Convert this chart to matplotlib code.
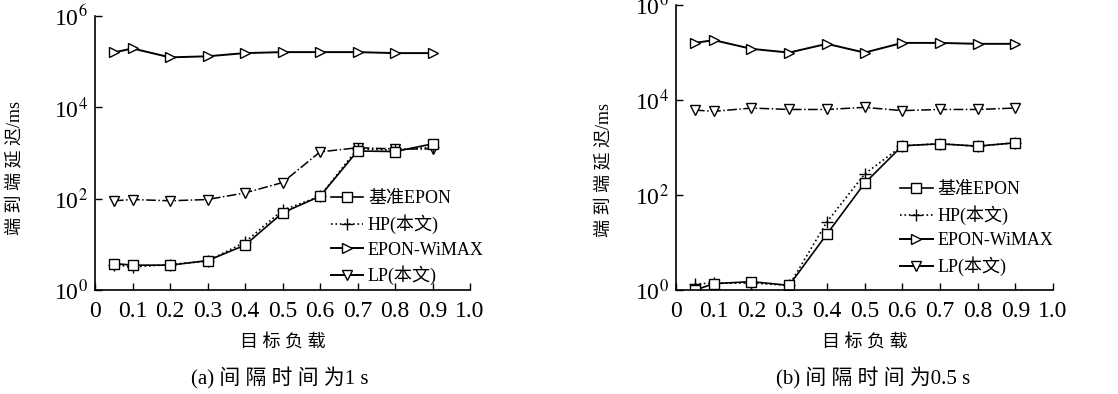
import numpy as np
import matplotlib
matplotlib.use("Agg")
import matplotlib.pyplot as plt
from matplotlib.lines import Line2D

plt.rcParams['font.family'] = ['Liberation Serif', 'Noto Sans CJK SC']
plt.rcParams['mathtext.fontset'] = 'stix'

# target load
load = [0.05, 0.1, 0.2, 0.3, 0.4, 0.5, 0.6, 0.7, 0.8, 0.9]

# (a) interval 1 s
base_a = [3.8, 3.5, 3.5, 4.4, 9.6, 49, 113, 1110, 1080, 1590]
hp_a = [3.6, 3.2, 3.6, 4.3, 11.2, 56, 113, 1250, 1150, 1350]
wimax_a = [1.6e5, 1.96e5, 1.25e5, 1.32e5, 1.55e5, 1.63e5, 1.63e5, 1.63e5, 1.55e5, 1.55e5]
lp_a = [90, 96, 90, 96, 134, 226, 1060, 1310, 1230, 1230]

# (b) interval 0.5 s
base_b = [0.99, 1.36, 1.5, 1.25, 15, 176, 1090, 1200, 1070, 1260]
hp_b = [1.34, 1.4, 1.4, 1.25, 27, 276, 1090, 1200, 1070, 1260]
wimax_b = [1.6e5, 1.83e5, 1.2e5, 1.0e5, 1.53e5, 1.0e5, 1.6e5, 1.6e5, 1.53e5, 1.53e5]
lp_b = [6160, 5780, 6790, 6340, 6340, 7020, 6000, 6340, 6340, 6790]

xticks = [0, 0.1, 0.2, 0.3, 0.4, 0.5, 0.6, 0.7, 0.8, 0.9, 1.0]
xlabels = ['0', '0.1', '0.2', '0.3', '0.4', '0.5', '0.6', '0.7', '0.8', '0.9', '1.0']
yticks = [1, 1e2, 1e4, 1e6]
ylabels = ['10$^0$', '10$^2$', '10$^4$', '10$^6$']
names = ['基准EPON', 'HP(本文)', 'EPON-WiMAX', 'LP(本文)']
xtitle = '目 标 负 载'
ytitle = '端 到 端 延 迟/ms'
captions = ['(a) 间 隔 时 间 为1 s', '(b) 间 隔 时 间 为0.5 s']

fig = plt.figure(figsize=(11.18, 3.94), dpi=100)
ax_a = fig.add_axes([0.085, 0.264, 0.3354, 0.695])
ax_b = fig.add_axes([0.6047, 0.264, 0.3372, 0.723])

mk = dict(markerfacecolor='white', markeredgecolor='black', markersize=7, markeredgewidth=1.0)

def draw(ax, base, hp, wimax, lp, caption, cap_x, legend_pos, ylab_xy):
    ax.plot(load, wimax, '-', color='black', lw=1.4, marker='>', **mk)
    ax.plot(load, lp, '-.', color='black', lw=1.1, marker='v', **mk)
    ax.plot(load, hp, ':', color='black', lw=1.2, marker='+', markersize=8, markeredgecolor='black')
    ax.plot(load, base, '-', color='black', lw=1.2, marker='s', **mk)

    ax.set_yscale('log')
    ax.set_xlim(0, 1.0)
    ax.set_ylim(1, 1e6)
    ax.set_xticks(xticks)
    ax.set_xticklabels(xlabels, fontsize=17)
    ax.set_yticks(yticks)
    ax.set_yticklabels(ylabels, fontsize=17)
    ax.minorticks_off()
    ax.tick_params(direction='in', length=5, width=1)
    ax.tick_params(axis='x', pad=8)
    ax.tick_params(axis='y', pad=5)
    ax.spines['top'].set_visible(False)
    ax.spines['right'].set_visible(False)
    for s in ['left', 'bottom']:
        ax.spines[s].set_linewidth(1.2)
    ax.set_xlabel(xtitle, fontsize=13, labelpad=8)
    ax.set_ylabel(ytitle, fontsize=13)
    ax.yaxis.set_label_coords(*ylab_xy)
    fig.text(cap_x, 1 - 378 / 394, caption, ha='center', va='center', fontsize=15)

    handles = [
        Line2D([], [], color='black', lw=1.2, marker='s', **mk),
        Line2D([], [], color='black', lw=1.2, ls=':', marker='+', markersize=8),
        Line2D([], [], color='black', lw=1.4, marker='>', **mk),
        Line2D([], [], color='black', lw=1.4, marker='v', **mk),
    ]
    ax.legend(handles, names, loc='center left', bbox_to_anchor=legend_pos, frameon=False,
              fontsize=13, handlelength=1.8, handletextpad=0.25, labelspacing=0.4,
              borderaxespad=0)

draw(ax_a, base_a, hp_a, wimax_a, lp_a, captions[0], 280 / 1118, (0.61, 0.19), (-0.19, 0.445))
draw(ax_b, base_b, hp_b, wimax_b, lp_b, captions[1], 873 / 1118, (0.575, 0.215), (-0.17, 0.42))

fig.savefig('out.png', dpi=100)
